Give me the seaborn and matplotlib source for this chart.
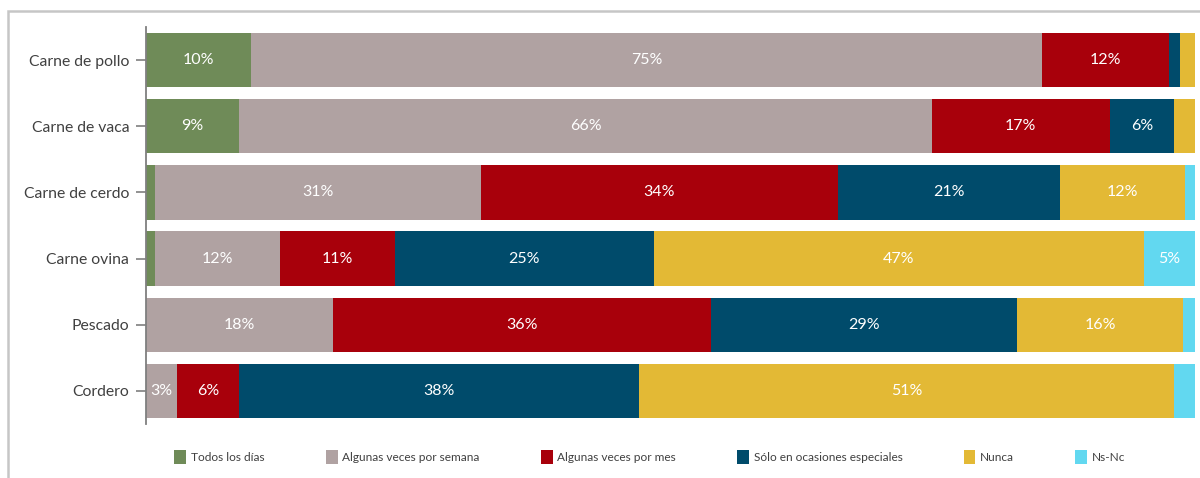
import numpy as np
import pandas as pd
import matplotlib
matplotlib.use("Agg")
import matplotlib.pyplot as plt
from matplotlib.patches import Patch, Rectangle
import seaborn as sns

# Consumption frequency by type of meat / fish (percent of respondents)
categories = ["Carne de pollo", "Carne de vaca", "Carne de cerdo",
              "Carne ovina", "Pescado", "Cordero"]
series_names = ["Todos los días", "Algunas veces por semana",
                "Algunas veces por mes", "Sólo en ocasiones especiales",
                "Nunca", "Ns-Nc"]
todos_los_dias = [10.0, 8.9, 0.9, 0.9, 0.0, 0.0]
veces_semana = [75.4, 66.0, 31.0, 11.9, 17.8, 3.0]
veces_mes = [12.1, 17.0, 34.1, 10.9, 36.1, 5.9]
ocasiones_especiales = [1.1, 6.1, 21.1, 24.7, 29.1, 38.1]
nunca = [1.4, 2.0, 11.9, 46.7, 15.9, 51.0]
ns_nc = [0.0, 0.0, 1.0, 4.9, 1.1, 2.0]

colors = ["#6f8b58", "#b0a2a2", "#a8000b", "#004b6b", "#e3b935", "#62d8f0"]

sns.set_theme(style="white")
plt.rcParams["font.family"] = ["Lato", "DejaVu Sans"]

values = np.array([todos_los_dias, veces_semana, veces_mes,
                   ocasiones_especiales, nunca, ns_nc])
cumulative = np.cumsum(values, axis=0)

fig = plt.figure(figsize=(12, 4.78), dpi=100)
ax = fig.add_axes([146 / 1200, 1 - 424 / 478, (1195 - 146) / 1200, (424 - 27) / 478])

# Stacked bars: draw cumulative totals from the outermost series inward
for k in range(len(series_names) - 1, -1, -1):
    df = pd.DataFrame({"categoria": categories, "total": cumulative[k]})
    sns.barplot(data=df, x="total", y="categoria", orient="h",
                color=colors[k], saturation=1, width=0.82,
                edgecolor="none", linewidth=0, ax=ax)

# Segment labels
for k in range(len(series_names)):
    for i in range(len(categories)):
        v = values[k, i]
        if v >= 2.5:
            ax.text(cumulative[k, i] - v / 2, i, f"{v:.0f}%",
                    ha="center", va="center", color="white",
                    fontsize=11.5)

ax.set_xlim(0, 100)
ax.set_ylim(len(categories) - 0.5, -0.5)
ax.set_xlabel("")
ax.set_ylabel("")
ax.set_xticks([])
for side in ["top", "right", "bottom"]:
    ax.spines[side].set_visible(False)
ax.spines["left"].set_color("#7f7f7f")
ax.spines["left"].set_linewidth(1.3)
ax.tick_params(axis="y", which="major", left=True, length=7, width=1.2,
               color="#7f7f7f", labelsize=11.3, labelcolor="#404040", pad=5)

handles = [Patch(facecolor=c, edgecolor="none") for c in colors]
fig.legend(handles, series_names, loc="center", ncol=6,
           bbox_to_anchor=(0.5415, 1 - 457 / 478), frameon=False,
           fontsize=8.6, handlelength=1.0, handleheight=1.3,
           handletextpad=0.4, columnspacing=5.1, labelcolor="#404040")

# Outer chart frame
fig.patches.append(Rectangle((8 / 1200, -0.2), 1.2, 1 - 11 / 478 + 0.2,
                             transform=fig.transFigure, fill=False,
                             edgecolor="#c6c6c6", linewidth=1.8))

fig.savefig("out.png", dpi=100)
